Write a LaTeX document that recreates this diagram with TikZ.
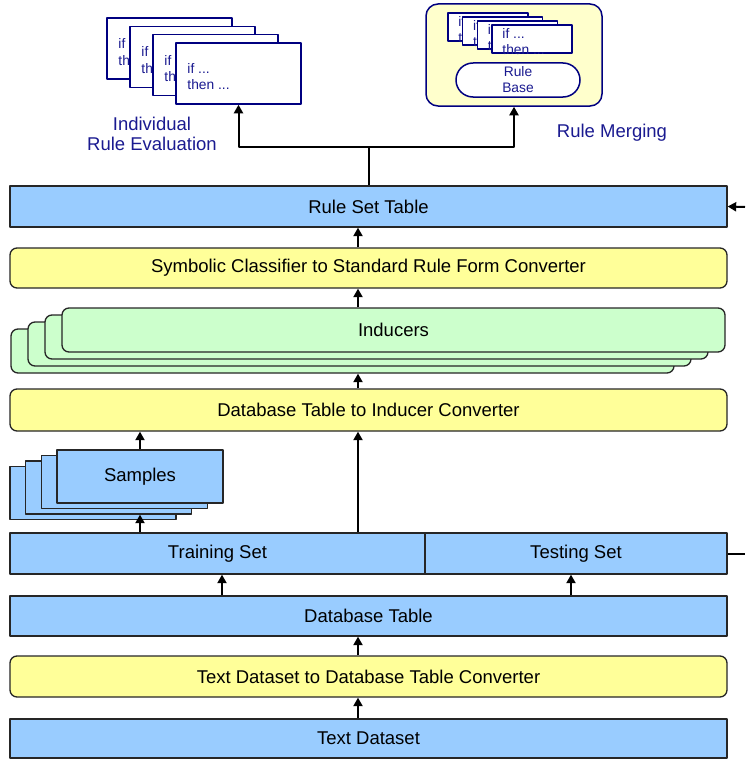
\documentclass[tikz,border=0pt]{standalone}
\usepackage{fontspec}
\setmainfont{Liberation Sans}
\usepackage{xcolor}
\usetikzlibrary{arrows.meta,positioning}

\definecolor{boxblue}{HTML}{99CCFF}
\definecolor{boxyellow}{HTML}{FFFF99}
\definecolor{boxgreen}{HTML}{CCFFCC}
\definecolor{paleyellow}{HTML}{FFFFCC}
\definecolor{navyline}{HTML}{000080}
\definecolor{navytext}{HTML}{1A1A90}

\begin{document}
\begin{tikzpicture}[
		x=1pt,
		y=-1pt,
		line join=round,
		font=\fontsize{18.5}{21}\selectfont,
		layer/.style={
			draw=black!85,
			line width=1.3pt,
			fill=boxblue,
			inner sep=0pt,
			minimum height=41pt
		},
		converter/.style={layer, fill=boxyellow, rounded corners=7pt},
		inducer/.style={layer, fill=boxgreen, rounded corners=7pt, minimum width=663pt, minimum height=44pt},
		sample/.style={layer, minimum width=166pt, minimum height=53pt},
		rulecard/.style={draw=navyline, fill=white, line width=1.5pt, inner sep=0pt},
		cardtext/.style={
			anchor=north west,
			inner sep=0pt,
			align=left,
			text=navytext,
			font=\fontsize{13.8}{16.5}\selectfont
		},
		flow/.style={draw=black, line width=2pt, -{Triangle[length=8.5pt,width=9pt]}}
		]
		
		\useasboundingbox (0,0) rectangle (745,760);
		
		% processing layers, bottom up
		\node[layer, minimum width=717pt, minimum height=39pt] (textds) at (368.5,738.5) {Text Dataset};
		\node[converter, minimum width=717pt] (tdconv) at (368.5,676.5) {Text Dataset to Database Table Converter};
		\node[layer, minimum width=717pt, minimum height=40pt] (dbtab) at (368.5,616) {Database Table};
		\node[layer, minimum width=415pt] (trainset) at (217.5,553.5) {Training Set};
		\node[layer, minimum width=302pt] (testset) at (576,553.5) {Testing Set};
		
		% stacked samples
		\foreach \k in {3,2,1}
			\node[sample] (samp\k) at (140-15.7*\k, 476.5+5.5*\k) {};
		\node[sample] (samp0) at (140,476.5) {Samples};
		
		\node[converter, minimum width=717pt, minimum height=42pt] (ticonv) at (368.5,410) {Database Table to Inducer Converter};
		
		% stacked inducers
		\foreach \k in {3,2,1}
			\node[inducer] (ind\k) at (393.5-17*\k, 330+7*\k) {};
		\node[inducer] (ind0) at (393.5,330) {Inducers};
		
		\node[converter, minimum width=717pt, minimum height=40pt] (scconv) at (368.5,268) {Symbolic Classifier to Standard Rule Form Converter};
		\node[layer, minimum width=717pt] (ruleset) at (368.5,206.5) {Rule Set Table};
		
		% individual rules
		\foreach \k in {3,2,1,0} {
			\node[rulecard, minimum width=125pt, minimum height=61pt] (card\k) at (238.5-23*\k, 73.5-8.3*\k) {};
			\node[cardtext] (cardtxt\k) at ([xshift=12pt,yshift=-21pt]card\k.north west) {if ...\\then ...};
		}
		\node[text=navytext, align=center, font=\fontsize{18.5}{20}\selectfont] (evallbl) at (152,134) {Individual\\Rule Evaluation};
		
		% merged rule base
		\node[rulecard, fill=paleyellow, rounded corners=12pt, minimum width=176pt, minimum height=102pt] (merge) at (514,55) {};
		\foreach \k in {3,2,1,0} {
			\node[rulecard, minimum width=80pt, minimum height=28pt] (mcard\k) at (532-14.7*\k, 39-4*\k) {};
			\node[cardtext] (mcardtxt\k) at ([xshift=11pt,yshift=-4pt]mcard\k.north west) {if ...\\then ...};
		}
		\node[rulecard, rounded corners=17pt, minimum width=124pt, minimum height=34pt, align=center,
			text=navytext, font=\fontsize{13.8}{16}\selectfont] (rulebase) at (518,80) {Rule\\Base};
		\node[text=navytext] (mergelbl) at (612,133) {Rule Merging};
		
		% data flow
		\coordinate (spine) at (358,0);
		\draw[flow] (textds.north -| spine) -- (tdconv.south -| spine);
		\draw[flow] (tdconv.north -| spine) -- (dbtab.south -| spine);
		\draw[flow] ([xshift=4.5pt]trainset.south |- dbtab.north) -- ([xshift=4.5pt]trainset.south);
		\draw[flow] ([xshift=-5pt]testset.south |- dbtab.north) -- ([xshift=-5pt]testset.south);
		\draw[flow] (trainset.north -| samp0) -- (samp2.south -| samp0);
		\draw[flow] (samp0.north) -- (samp0.north |- ticonv.south);
		\draw[flow] (trainset.north -| spine) -- (ticonv.south -| spine);
		\draw[flow] (ticonv.north -| spine) -- (ind3.south -| spine);
		\draw[flow] (ind0.north -| spine) -- (scconv.south -| spine);
		\draw[flow] (scconv.north -| spine) -- (ruleset.south -| spine);
		
		% fork to evaluation and merging
		\draw[line width=2pt] (ruleset.north) -- ++(0,-38) coordinate (fork);
		\draw[flow] (fork) -| (card0.south);
		\draw[flow] (fork) -| (merge.south);
		
		% feedback leaving and entering on the right
		\coordinate (exitR) at (745,553.5);
		\coordinate (entryR) at (745,207);
		\draw[line width=2pt] (testset.east) -- (exitR);
		\draw[flow] (entryR) -- (ruleset.east);
\end{tikzpicture}
\end{document}
